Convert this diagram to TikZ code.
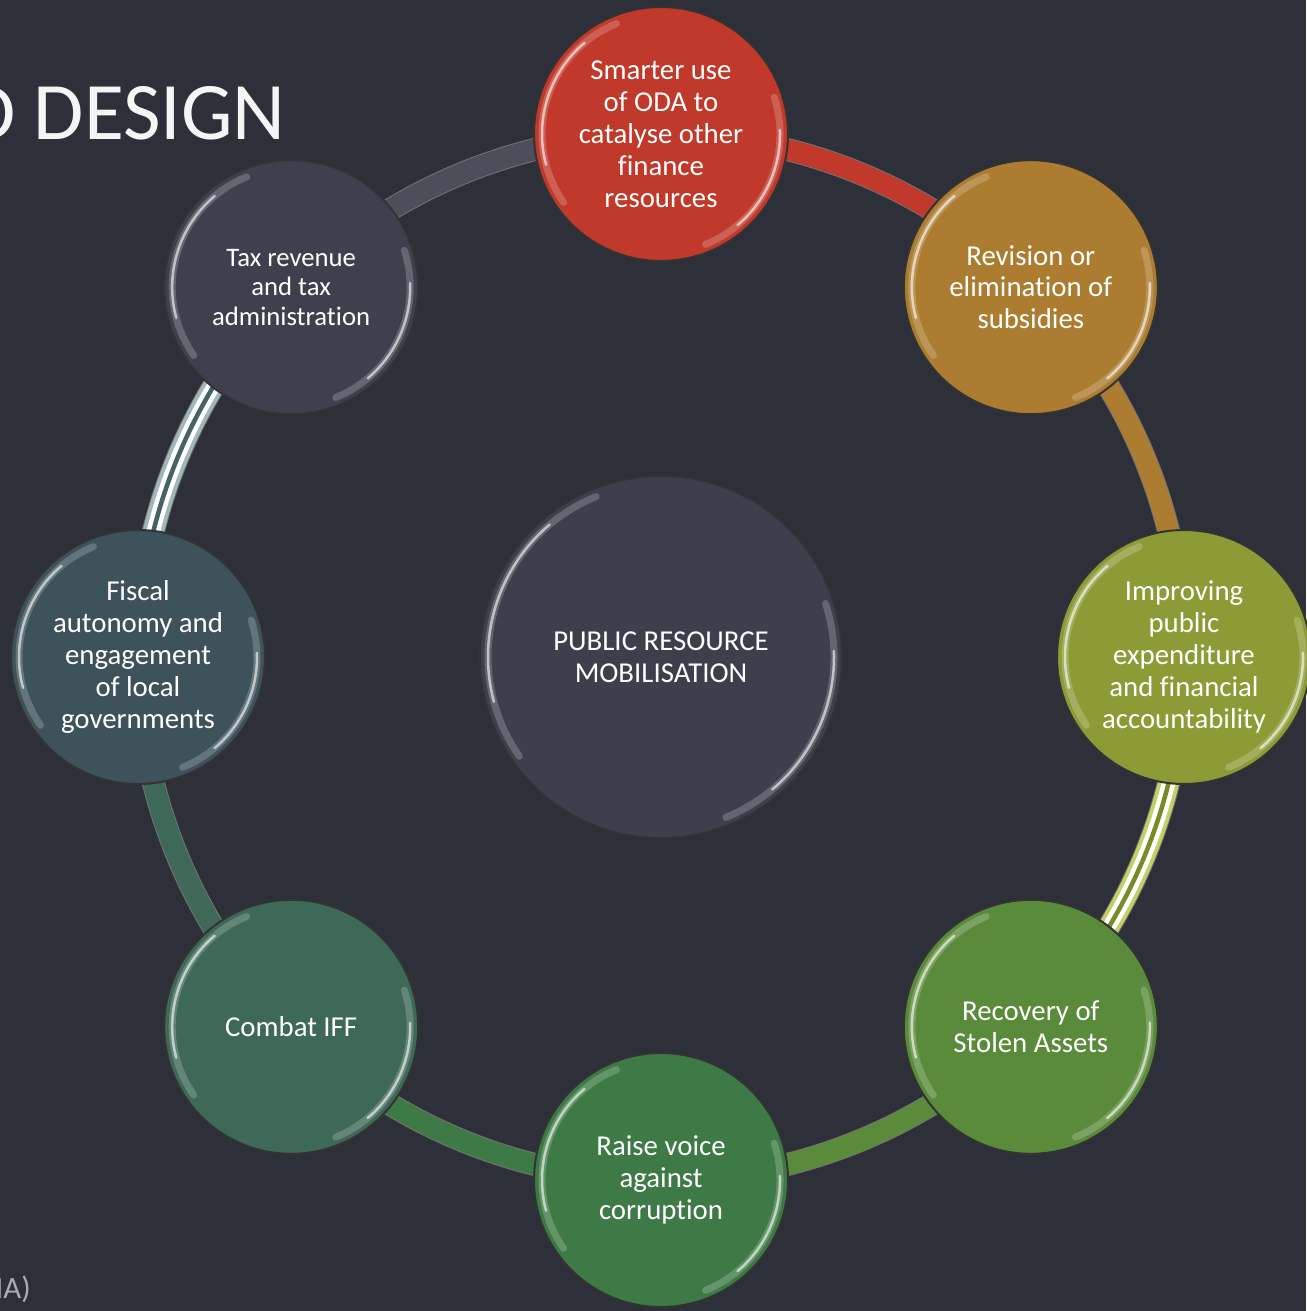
\documentclass[tikz,border=0pt]{standalone}
\usepackage{fontspec}
\setmainfont{Carlito}[Ligatures=NoCommon]
\tikzset{>=latex}

\definecolor{slidebg}{RGB}{45,47,57}
\definecolor{hubgrey}{RGB}{61,64,76}
\definecolor{odared}{RGB}{192,57,43}
\definecolor{subsgold}{RGB}{172,124,48}
\definecolor{spendolive}{RGB}{140,155,54}
\definecolor{spendlight}{RGB}{196,208,100}
\definecolor{spendmid}{RGB}{122,138,40}
\definecolor{assetgreen}{RGB}{90,139,59}
\definecolor{voicegreen}{RGB}{62,122,69}
\definecolor{iffteal}{RGB}{62,104,88}
\definecolor{localslate}{RGB}{61,82,91}
\definecolor{locallight}{RGB}{160,184,188}
\definecolor{localmid}{RGB}{70,98,104}
\definecolor{taxgrey}{RGB}{62,65,77}
\definecolor{ringgrey}{RGB}{76,79,90}
\definecolor{titlewhite}{RGB}{245,245,245}
\definecolor{footgrey}{RGB}{170,172,180}

\pgfdeclarelayer{bg}
\pgfdeclarelayer{ring}
\pgfsetlayers{bg,ring,main}

\tikzset{
  rim radius/.store in=\rimR, rim radius=2.38cm,
  bubble/.style={circle, draw=black!80, line width=0.04cm, minimum size=5.08cm, inner sep=0pt, text=white, align=center, font=\fontsize{16.4}{18.2}\selectfont,
    path picture={
      \draw[white, opacity=.2, line width=.14cm, line cap=round] ([shift={(112:\rimR)}]path picture bounding box.center) arc[start angle=112, end angle=215, radius=\rimR];
      \draw[white, opacity=.6, line width=.05cm, line cap=round] ([shift={(130:\rimR)}]path picture bounding box.center) arc[start angle=130, end angle=195, radius=\rimR];
      \draw[white, opacity=.2, line width=.14cm, line cap=round] ([shift={(-68:\rimR)}]path picture bounding box.center) arc[start angle=-68, end angle=18, radius=\rimR];
      \draw[white, opacity=.6, line width=.05cm, line cap=round] ([shift={(-50:\rimR)}]path picture bounding box.center) arc[start angle=-50, end angle=2, radius=\rimR];
    }},
  tube/.style={line width=0.02cm, draw=black!55, double=#1, double distance=0.42cm},
  stripes/.style={line width=0.09cm, draw=white, double=#1, double distance=0.09cm},
  ringlink/.style={bend left=22.5, looseness=0.885}
}

\begin{document}
\begin{tikzpicture}
  \useasboundingbox (0,0) rectangle (26.12,-26.22);
  \begin{pgfonlayer}{bg}
    \fill[slidebg] (0,0) rectangle (26.12,-26.22);
  \end{pgfonlayer}

  \node[font=\fontsize{46.5}{50}\selectfont, text=titlewhite, anchor=base east, inner sep=0pt] (title) at (5.72,-2.80) {D DESIGN};
  \node[font=\fontsize{17.6}{20}\selectfont, text=footgrey, anchor=base east, inner sep=0pt] (source) at (0.62,-25.96) {IA)};

  \node[bubble, minimum size=7.24cm, rim radius=3.46cm, fill=hubgrey] (hub) at (13.22,-13.14) {PUBLIC RESOURCE\\MOBILISATION};
  \node[bubble, fill=odared] (oda) at ([shift={(90:10.46)}]hub.center) {Smarter use\\of ODA to\\catalyse other\\finance\\resources};
  \node[bubble, fill=subsgold] (subsidies) at ([shift={(45:10.46)}]hub.center) {Revision or\\elimination of\\subsidies};
  \node[bubble, fill=spendolive] (spending) at ([shift={(0:10.46)}]hub.center) {Improving\\public\\expenditure\\and financial\\accountability};
  \node[bubble, fill=assetgreen] (assets) at ([shift={(-45:10.46)}]hub.center) {Recovery of\\Stolen Assets};
  \node[bubble, fill=voicegreen] (voice) at ([shift={(-90:10.46)}]hub.center) {Raise voice\\against\\corruption};
  \node[bubble, fill=iffteal] (iff) at ([shift={(-135:10.46)}]hub.center) {Combat IFF};
  \node[bubble, fill=localslate] (local) at ([shift={(180:10.46)}]hub.center) {Fiscal\\autonomy and\\engagement\\of local\\governments};
  \node[bubble, fill=taxgrey, font=\fontsize{15.2}{16.8}\selectfont] (tax) at ([shift={(135:10.46)}]hub.center) {Tax revenue\\and tax\\administration};

  \begin{pgfonlayer}{ring}
    \draw[tube=odared] (oda.center) to[ringlink] (subsidies.center);
    \draw[tube=subsgold] (subsidies.center) to[ringlink] (spending.center);
    \draw[tube=spendlight] (spending.center) to[ringlink] (assets.center);
    \draw[stripes=spendmid] (spending.center) to[ringlink] (assets.center);
    \draw[tube=assetgreen] (assets.center) to[ringlink] (voice.center);
    \draw[tube=voicegreen] (voice.center) to[ringlink] (iff.center);
    \draw[tube=iffteal] (iff.center) to[ringlink] (local.center);
    \draw[tube=locallight] (local.center) to[ringlink] (tax.center);
    \draw[stripes=localmid] (local.center) to[ringlink] (tax.center);
    \draw[tube=ringgrey] (tax.center) to[ringlink] (oda.center);
  \end{pgfonlayer}
\end{tikzpicture}
\end{document}
